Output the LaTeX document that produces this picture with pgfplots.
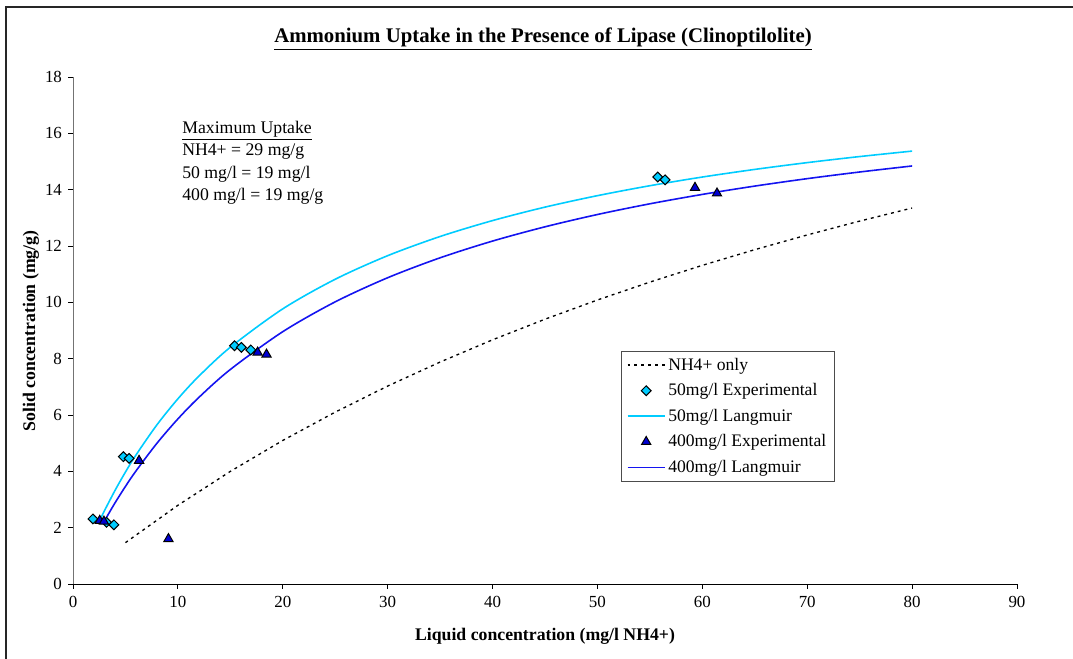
\documentclass[border=0pt]{standalone}
\usepackage{pgfplots}
\pgfplotsset{compat=1.18}
\usepackage{fontspec}
\setmainfont{Liberation Serif}
\definecolor{cyanl}{RGB}{0,204,255}
\definecolor{bluel}{RGB}{20,20,240}
\definecolor{bluem}{RGB}{0,0,210}
\begin{document}
\begin{tikzpicture}
\path[use as bounding box] (0,0) rectangle ({1073*0.75pt},{659*0.75pt});
\draw[line width=1.4pt, black!85] ({6*0.75pt},-2pt) -- ({6*0.75pt},{(659-7)*0.75pt}) -- ({1080*0.75pt},{(659-7)*0.75pt});
\begin{axis}[
  at={({73*0.75pt},{75*0.75pt})}, anchor=origin,
  scale only axis, width={944*0.75pt}, height={507*0.75pt},
  xmin=0, xmax=90, ymin=0, ymax=18,
  xtick={0,10,...,90}, ytick={0,2,...,18},
  axis x line=bottom, axis y line=left,
  axis line style={-}, 
  y axis line style={draw=gray!90!black},
  tick align=outside, major tick length=3.75pt,
  tick style={black, line width=0.6pt},
  /pgf/number format/assume math mode=true,
  ticklabel style={font=\fontsize{12.7}{14}\selectfont},
  xticklabel style={yshift=-2pt},
  yticklabel style={xshift=-1pt},
  legend image code/.code={\draw[mark repeat=2,mark phase=2,#1] plot coordinates {(0pt,0pt) (14pt,0pt) (28pt,0pt)};},
  legend style={at={(0.5805,0.4596)}, anchor=north west, draw=black!70, line width=0.6pt,
    font=\fontsize{13.2}{15}\selectfont, row sep=4.5pt, inner xsep=4pt, inner ysep=3pt,
    cells={anchor=west}},
  clip=false,
]
\addplot[black, line width=1pt, dash pattern=on 2.2pt off 3pt] coordinates {
(5,1.468) (10,2.794) (15,3.998) (20,5.096) (25,6.102) (30,7.027) (35,7.880) (40,8.669)
(45,9.401) (50,10.083) (55,10.718) (60,11.313) (65,11.870) (70,12.392) (75,12.884) (80,13.348)};
\addlegendentry{NH4+ only}
\addplot[only marks, mark=square*, mark size=2.6pt, mark options={rotate=45, fill=cyanl, draw=black, line width=0.75pt}] coordinates {
(1.9,2.31) (3.2,2.19) (3.9,2.10) (4.8,4.52) (5.35,4.46)
(15.4,8.46) (16.05,8.40) (16.95,8.31) (55.75,14.45) (56.45,14.35)};
\addlegendentry{50mg/l Experimental}
\addplot[cyanl, line width=1.2pt, smooth] coordinates {
(2.5,2.219) (3,2.602) (4,3.318) (5,3.974) (6,4.578) (8,5.650) (10,6.574) (12,7.378)
(15,8.406) (20,9.768) (25,10.819) (30,11.656) (35,12.337) (40,12.902) (45,13.380)
(50,13.787) (55,14.140) (60,14.448) (65,14.719) (70,14.960) (75,15.175) (80,15.369)};
\addlegendentry{50mg/l Langmuir}
\addplot[only marks, mark=triangle*, mark size=4pt, mark options={fill=bluem, draw=black, line width=0.75pt}] coordinates {
(2.55,2.25) (2.95,2.22) (6.3,4.38) (9.1,1.60) (17.6,8.22) (18.45,8.15) (59.3,14.07) (61.4,13.87)};
\addlegendentry{400mg/l Experimental}
\addplot[bluel, line width=1.2pt, smooth] coordinates {
(3,2.242) (4,2.876) (5,3.464) (6,4.011) (8,4.996) (10,5.860) (12,6.624) (15,7.616)
(20,8.958) (25,10.017) (30,10.873) (35,11.581) (40,12.175) (45,12.681) (50,13.118)
(55,13.498) (60,13.831) (65,14.127) (70,14.391) (75,14.627) (80,14.841)};
\addlegendentry{400mg/l Langmuir}
\end{axis}
\node[font=\bfseries\fontsize{15.6}{17}\selectfont] at ({543*0.75pt},{(659-39)*0.75pt}) {\underline{Ammonium Uptake in the Presence of Lipase (Clinoptilolite)}};
\node[font=\bfseries\fontsize{13.3}{15}\selectfont] at ({545*0.75pt},{(659-636)*0.75pt}) {Liquid concentration (mg/l NH4+)};
\node[font=\bfseries\fontsize{13.3}{15}\selectfont, rotate=90] at ({31*0.75pt},{(659-331)*0.75pt}) {Solid concentration (mg/g)};
\node[font=\fontsize{13.3}{16.8}\selectfont, align=left, anchor=north west, inner sep=0pt] at ({182*0.75pt},{(659-121)*0.75pt}) {\underline{Maximum Uptake}\\NH4+ = 29 mg/g\\50 mg/l = 19 mg/l\\400 mg/l = 19 mg/g};
\end{tikzpicture}
\end{document}
